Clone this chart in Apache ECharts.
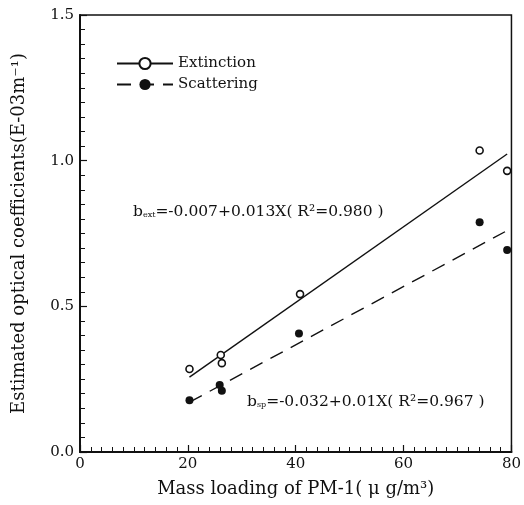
<!DOCTYPE html>
<html>
<head>
<meta charset="utf-8">
<script src="https://cdn.jsdelivr.net/npm/echarts@6/dist/echarts.min.js"></script>
<style>
html,body{margin:0;padding:0;background:#fff;}
#c{width:524px;height:505px;}
</style>
</head>
<body>
<div id="c"></div>
<script>
// Data
var extMass = [20.3, 26.1, 26.3, 40.8, 74.1, 79.2];
var extVals = [0.285, 0.333, 0.305, 0.542, 1.035, 0.965];
var scaMass = [20.3, 25.9, 26.3, 40.6, 74.1, 79.2];
var scaVals = [0.178, 0.230, 0.210, 0.407, 0.789, 0.693];
// Regression line end points
var extFitX = [20.3, 79.2];
var extFitY = [0.257, 1.023];
var scaFitX = [20.3, 78.8];
var scaFitY = [0.171, 0.756];
var xTicks = [0, 20, 40, 60, 80];
var yTicks = [0.0, 0.5, 1.0, 1.5];
var seriesNames = ['Extinction', 'Scattering'];
var xTitle = 'Mass loading of PM-1( \u03bc g/m\u00b3)';
var yTitle = 'Estimated optical coefficients(E-03m\u207b\u00b9)';

function pairs(xs, ys){ return xs.map(function(x,i){ return [x, ys[i]]; }); }

var FONT = '"DejaVu Serif", "Liberation Serif", serif';
var chart = echarts.init(document.getElementById('c'), null, {renderer:'canvas'});
chart.setOption({
  animation: false,
  backgroundColor: '#fff',
  textStyle: {fontFamily: FONT, color: '#111'},
  grid: {left: 80, right: 7, top: 15, bottom: 53, show: true, borderColor: '#111', borderWidth: 1.5, backgroundColor: 'transparent'},
  legend: {
    orient: 'vertical', left: 116, top: 56, padding: 0,
    itemWidth: 56, itemHeight: 14, itemGap: 6,
    data: [
      {name: seriesNames[0], itemStyle: {color: '#111', borderColor: '#111', borderWidth: 1.4}},
      {name: seriesNames[1], itemStyle: {color: '#111'}}
    ],
    textStyle: {fontFamily: FONT, fontSize: 15, color: '#111'}
  },
  xAxis: {
    type: 'value', min: xTicks[0], max: xTicks[xTicks.length-1], interval: 20,
    axisLine: {lineStyle: {color: '#111', width: 2}},
    axisTick: {inside: true, length: 7, lineStyle: {color: '#111', width: 1.2}},
    minorTick: {show: true, splitNumber: 10, length: 5, lineStyle: {color: '#111', width: 1}},
    splitLine: {show: false},
    axisLabel: {fontFamily: FONT, fontSize: 15, color: '#111', margin: 5},
    name: xTitle, nameLocation: 'middle', nameGap: 28,
    nameTextStyle: {fontFamily: FONT, fontSize: 18, color: '#111'}
  },
  yAxis: {
    type: 'value', min: yTicks[0], max: yTicks[yTicks.length-1], interval: 0.5,
    axisLine: {lineStyle: {color: '#111', width: 2}},
    axisTick: {inside: true, length: 7, lineStyle: {color: '#111', width: 1.2}},
    minorTick: {show: true, splitNumber: 10, length: 5, lineStyle: {color: '#111', width: 1}},
    splitLine: {show: false},
    axisLabel: {fontFamily: FONT, fontSize: 15, color: '#111', margin: 6,
      formatter: function(v){ return v.toFixed(1); }},
    name: yTitle, nameLocation: 'middle', nameGap: 52,
    nameTextStyle: {fontFamily: FONT, fontSize: 18, color: '#111'}
  },
  series: [
    {
      name: seriesNames[0], type: 'line', data: pairs(extFitX, extFitY),
      symbol: 'emptyCircle', symbolSize: 13, showSymbol: false,
      lineStyle: {color: '#111', width: 1.4, type: 'solid'},
      itemStyle: {color: '#111', borderColor: '#111', borderWidth: 1.4},
      silent: true, z: 2
    },
    {
      name: seriesNames[1], type: 'line', data: pairs(scaFitX, scaFitY),
      symbol: 'circle', symbolSize: 13, showSymbol: false,
      lineStyle: {color: '#111', width: 1.4, type: [14, 9]},
      itemStyle: {color: '#111'},
      silent: true, z: 2
    },
    {
      name: 'Extinction data', type: 'scatter', data: pairs(extMass, extVals),
      symbol: 'circle', symbolSize: 7,
      itemStyle: {color: '#fff', borderColor: '#111', borderWidth: 1.6, opacity: 1}, z: 3
    },
    {
      name: 'Scattering data', type: 'scatter', data: pairs(scaMass, scaVals),
      symbol: 'circle', symbolSize: 8,
      itemStyle: {color: '#111', opacity: 1}, z: 3
    }
  ],
  graphic: [
    {
      type: 'text', left: 133, top: 204,
      style: {
        text: '{b|b}{s|ext}{t|=-0.007+0.013X( R\u00b2=0.980 )}',
        rich: {
          b: {fontFamily: FONT, fontSize: 15.5, fill: '#111'},
          s: {fontFamily: FONT, fontSize: 8, fill: '#111', padding: [6, 0, 0, 0]},
          t: {fontFamily: FONT, fontSize: 15.5, fill: '#111'}
        }
      }
    },
    {
      type: 'text', left: 247, top: 394,
      style: {
        text: '{b|b}{s|sp}{t|=-0.032+0.01X( R\u00b2=0.967 )}',
        rich: {
          b: {fontFamily: FONT, fontSize: 15.5, fill: '#111'},
          s: {fontFamily: FONT, fontSize: 8, fill: '#111', padding: [6, 0, 0, 0]},
          t: {fontFamily: FONT, fontSize: 15.5, fill: '#111'}
        }
      }
    }
  ]
});
</script>
</body>
</html>
